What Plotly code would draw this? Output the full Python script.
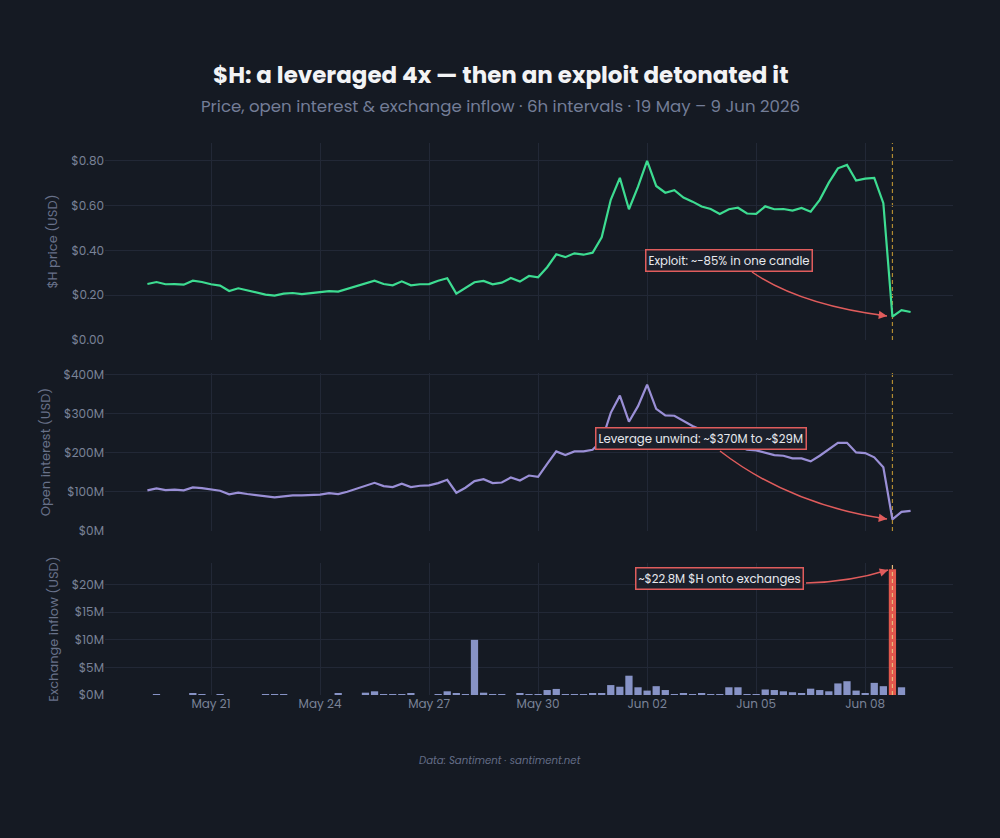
import pandas as pd
import plotly.graph_objects as go

# ---------------- data (6h intervals) ----------------
start = "2026-05-19 06:00"
n_points = 85
timestamps = pd.date_range(start, periods=n_points, freq="6h")

price_usd = [
    0.250, 0.259, 0.249, 0.250, 0.247, 0.265, 0.259, 0.249, 0.243, 0.219,
    0.231, 0.222, 0.212, 0.203, 0.198, 0.207, 0.210, 0.205, 0.209, 0.212,
    0.218, 0.216, 0.228, 0.240, 0.252, 0.265, 0.250, 0.244, 0.262, 0.244,
    0.249, 0.250, 0.265, 0.276, 0.207, 0.232, 0.258, 0.264, 0.249, 0.256,
    0.277, 0.261, 0.286, 0.280, 0.325, 0.383, 0.370, 0.387, 0.381, 0.390,
    0.459, 0.626, 0.724, 0.584, 0.685, 0.800, 0.688, 0.658, 0.669, 0.636,
    0.618, 0.596, 0.585, 0.563, 0.584, 0.591, 0.565, 0.563, 0.597, 0.584,
    0.585, 0.578, 0.590, 0.573, 0.626, 0.703, 0.767, 0.782, 0.712, 0.721,
    0.724, 0.611, 0.104, 0.133, 0.125,
]

open_interest_musd = [
    103.8, 108.9, 104.6, 105.5, 103.8, 111.4, 109.7, 106.3, 103.0, 93.7,
    97.9, 94.5, 92.0, 88.6, 86.0, 88.6, 91.1, 91.1, 92.0, 92.8,
    97.0, 94.5, 100.4, 108.0, 115.6, 123.2, 114.8, 112.2, 120.7, 112.2,
    115.6, 116.5, 122.4, 130.8, 97.9, 110.6, 127.4, 132.5, 122.4, 124.0,
    136.7, 129.1, 141.8, 138.4, 171.3, 203.3, 194.1, 203.3, 203.3, 207.6,
    230.4, 302.0, 346.0, 279.3, 319.0, 373.9, 312.2, 295.4, 294.5, 281.0,
    268.4, 258.0, 243.0, 232.0, 222.0, 218.0, 208.0, 206.0, 200.8, 194.1,
    192.4, 185.6, 185.6, 178.0, 192.4, 209.3, 225.3, 225.3, 200.8, 199.2,
    188.2, 162.9, 29.5, 48.9, 51.5,
]

inflow_musd = [
    0.0, 0.12, 0.0, 0.0, 0.0, 0.30, 0.12, 0.0, 0.12, 0.0,
    0.0, 0.0, 0.0, 0.12, 0.12, 0.12, 0.0, 0.0, 0.0, 0.0,
    0.0, 0.25, 0.0, 0.0, 0.42, 0.67, 0.12, 0.12, 0.12, 0.25,
    0.0, 0.0, 0.12, 0.67, 0.30, 0.12, 10.0, 0.42, 0.12, 0.12,
    0.0, 0.30, 0.12, 0.12, 0.90, 1.10, 0.12, 0.12, 0.12, 0.30,
    0.30, 1.80, 1.50, 3.50, 1.40, 0.80, 1.60, 0.90, 0.12, 0.20,
    0.12, 0.20, 0.12, 0.12, 1.40, 1.40, 0.12, 0.12, 1.00, 0.90,
    0.67, 0.50, 0.36, 1.15, 0.90, 0.67, 2.10, 2.50, 0.80, 0.36,
    2.20, 1.60, 22.80, 1.40, 0.0,
]

x_tick_dates = ["2026-05-21", "2026-05-24", "2026-05-27", "2026-05-30",
                "2026-06-02", "2026-06-05", "2026-06-08"]
x_tick_labels = ["May 21", "May 24", "May 27", "May 30", "Jun 02", "Jun 05", "Jun 08"]
price_ticks = [0.0, 0.2, 0.4, 0.6, 0.8]
oi_ticks = [0, 100, 200, 300, 400]
inflow_ticks = [0, 5, 10, 15, 20]
exploit_time = "2026-06-08 18:00"

title_text = "$H: a leveraged 4x — then an exploit detonated it"
subtitle_text = "Price, open interest &amp; exchange inflow · 6h intervals · 19 May – 9 Jun 2026"
footer_text = "Data: Santiment · santiment.net"
note_price = "Exploit: ~-85% in one candle"
note_oi = "Leverage unwind: ~$370M to ~$29M"
note_inflow = "~$22.8M $H onto exchanges"

# ---------------- style ----------------
BG = "#151a23"
GRID = "#222836"
TICK = "#7a8398"
AXT = "#687189"
GREEN = "#3ddc91"
LAV = "#9a8fd6"
BAR = "#8793c6"
RED = "#e2574c"
ARROW = "#e05c5c"
VLINE = "#b08a32"
VLINE_ON_BAR = "#e8b87a"
FONT = "Poppins, Inter, sans-serif"

W, H = 1000, 838
ML, MR, MT, MB = 105, 47, 143, 143
PW, PH = W - ML - MR, H - MT - MB


def px(xp):
    return (xp - ML) / PW


def py(yp):
    return (H - MB - yp) / PH


fig = go.Figure()

fig.add_trace(go.Scatter(x=timestamps, y=price_usd, mode="lines",
                         line=dict(color=GREEN, width=2.2), xaxis="x", yaxis="y",
                         hoverinfo="skip", showlegend=False))
fig.add_trace(go.Scatter(x=timestamps, y=open_interest_musd, mode="lines",
                         line=dict(color=LAV, width=2.2), xaxis="x2", yaxis="y2",
                         hoverinfo="skip", showlegend=False))
peak_idx = max(range(len(inflow_musd)), key=lambda i: inflow_musd[i])
bar_colors = [RED if i == peak_idx else BAR for i in range(len(inflow_musd))]
fig.add_trace(go.Bar(x=timestamps, y=inflow_musd, marker=dict(color=bar_colors, line=dict(width=0)),
                     xaxis="x3", yaxis="y3", hoverinfo="skip", showlegend=False))

x_range = ["2026-05-18 02:00", "2026-06-10 10:00"]
xcommon = dict(range=x_range, type="date", tickvals=x_tick_dates, ticktext=x_tick_labels,
               showgrid=True, gridcolor=GRID, gridwidth=1, zeroline=False, showline=False,
               ticks="", tickfont=dict(color=TICK, size=12, family=FONT))
ycommon = dict(showgrid=True, gridcolor=GRID, gridwidth=1, zeroline=False, showline=False,
               ticks="", tickfont=dict(color=TICK, size=12, family=FONT))

fig.update_layout(
    width=W, height=H,
    margin=dict(l=ML, r=MR, t=MT, b=MB),
    paper_bgcolor=BG, plot_bgcolor=BG,
    font=dict(family=FONT, color=TICK),
    bargap=0.2,
    xaxis=dict(**xcommon, domain=[0, 1], anchor="y", showticklabels=False, matches="x3"),
    xaxis2=dict(**xcommon, domain=[0, 1], anchor="y2", showticklabels=False, matches="x3"),
    xaxis3=dict(**xcommon, domain=[0, 1], anchor="y3", showticklabels=True),
    yaxis=dict(**ycommon, domain=[py(340), py(143)], range=[0, max(price_usd) * 1.1],
               tickvals=price_ticks, ticktext=[f"${v:.2f}" for v in price_ticks],
               title=dict(text="$H price (USD)", font=dict(size=13, color=AXT, family=FONT), standoff=10)),
    yaxis2=dict(**ycommon, domain=[py(531), py(373)], range=[0, max(open_interest_musd) * 1.08],
                tickvals=oi_ticks, ticktext=[f"${v}M" for v in oi_ticks],
                title=dict(text="Open interest (USD)", font=dict(size=13, color=AXT, family=FONT), standoff=10)),
    yaxis3=dict(**ycommon, domain=[0, py(563)], range=[0, max(inflow_musd) * 1.05],
                tickvals=inflow_ticks, ticktext=[f"${v}M" for v in inflow_ticks],
                title=dict(text="Exchange inflow (USD)", font=dict(size=13, color=AXT, family=FONT), standoff=10)),
)

# exploit marker lines
for yr, xr, lay, col in [("y", "x", "below", VLINE), ("y2", "x2", "below", VLINE),
                         ("y3", "x3", "above", VLINE_ON_BAR)]:
    fig.add_shape(type="line", xref=xr, yref=f"{yr} domain", x0=exploit_time, x1=exploit_time,
                  y0=0, y1=1, line=dict(color=col, width=1.2, dash="4px,3px"), layer=lay)

anns = []
anns.append(dict(text=f"<b>{title_text}</b>", xref="paper", yref="paper", x=px(500), y=py(75),
                 xanchor="center", yanchor="middle", showarrow=False,
                 font=dict(size=23, color="#f2f3f5", family=FONT)))
anns.append(dict(text=subtitle_text, xref="paper", yref="paper", x=px(500), y=py(107),
                 xanchor="center", yanchor="middle", showarrow=False,
                 font=dict(size=16.6, color="#737d97", family=FONT)))
anns.append(dict(text=f"<i>{footer_text}</i>", xref="paper", yref="paper", x=px(500), y=py(760),
                 xanchor="center", yanchor="middle", showarrow=False,
                 font=dict(size=10.2, color="#646d87", family=FONT)))

box = dict(showarrow=False, bgcolor="#1b202b", bordercolor=ARROW, borderwidth=1.5, borderpad=2,
           font=dict(size=11.7, color="#e8e9ee", family=FONT), xanchor="center", yanchor="middle",
           xref="paper", yref="paper")
anns.append(dict(text=note_price, x=px(729), y=py(260), **box))
anns.append(dict(text=note_oi, x=px(701), y=py(439), **box))
anns.append(dict(text=note_inflow, x=px(719), y=py(578), **box))

# curved arrows (paper coords)
curves = [((752, 272), (800, 305), (887, 316)),
          ((720, 451), (790, 505), (887, 519)),
          ((806, 583), (850, 582), (888, 570))]
for (sx, sy), (cx, cy), (ex, ey) in curves:
    path = f"M {px(sx)},{py(sy)} Q {px(cx)},{py(cy)} {px(ex)},{py(ey)}"
    fig.add_shape(type="path", path=path, xref="paper", yref="paper",
                  line=dict(color=ARROW, width=1.5), layer="above")
    dx, dy = ex - cx, ey - cy
    L = (dx * dx + dy * dy) ** 0.5
    anns.append(dict(text="", x=px(ex), y=py(ey), xref="paper", yref="paper",
                     ax=-10 * dx / L, ay=-10 * dy / L, showarrow=True, arrowhead=2,
                     arrowsize=1.1, arrowwidth=1.5, arrowcolor=ARROW))

fig.update_layout(annotations=anns)

fig.write_html("out.html")
